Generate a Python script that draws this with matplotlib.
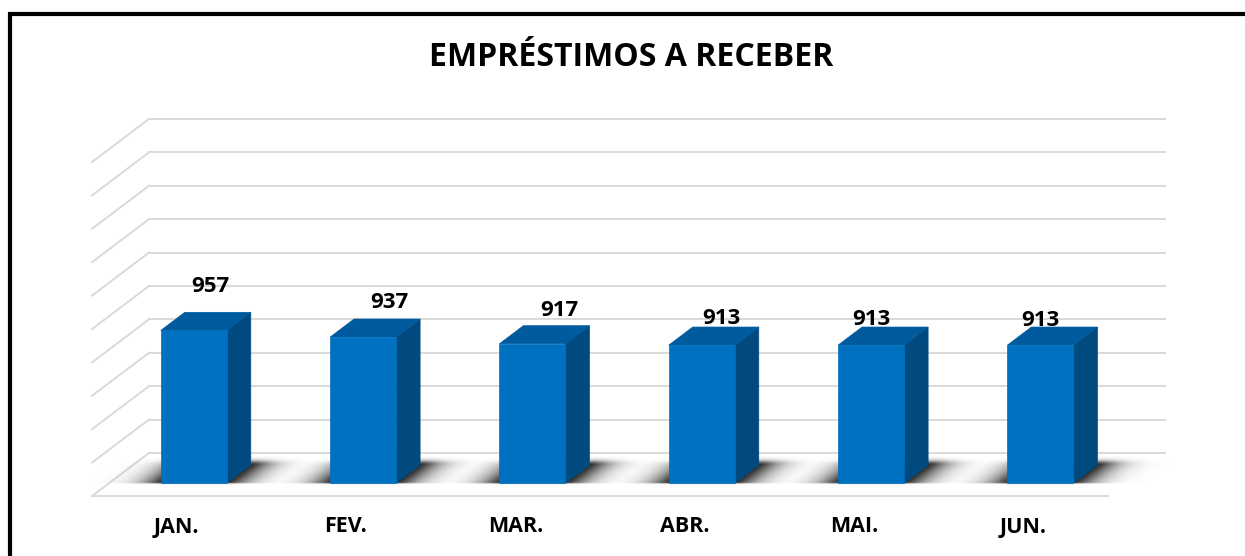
import numpy as np
import matplotlib.pyplot as plt
from matplotlib.patches import Polygon, Rectangle

plt.rcParams['font.family'] = ['Open Sans', 'DejaVu Sans']

meses = ['JAN.', 'FEV.', 'MAR.', 'ABR.', 'MAI.', 'JUN.']
valores = [957, 937, 917, 913, 913, 913]
titulo = 'EMPRÉSTIMOS A RECEBER'

# eixo de valores (3D do Excel): 500 a 1500, grade a cada 100
vmin, vmax, passo = 500, 1500, 100

# projeção oblíqua: deslocamento total da profundidade em unidades de dados
prof_x, prof_y = 0.337, 129.0
d0, d1 = 0.30, 0.72        # frente / fundo das barras
meia_larg = 0.195

cor_frente = '#0070c0'
cor_topo = '#005a9e'
cor_lado = '#004a80'
cor_grade = '#d9d9d9'

# ajustes manuais dos rótulos (pixels), como no gráfico original
desloc_rot = [(17, 44), (26, 35), (27, 33), (20, 27), (0, 26), (0, 25)]

fig = plt.figure(figsize=(12.45, 5.56), dpi=100)
ax = fig.add_axes([0, 0, 1, 1])
ppx = 1016 / 6.0
xlim = (-92 / ppx, (1245 - 92) / ppx)
ylim = (vmin - 60 / 0.334, vmin + 496 / 0.334)
ax.axis('off')


def proj(x, v, d):
    return x + d * prof_x, v + d * prof_y


n = len(meses)
# parede de fundo e lateral
for v in np.arange(vmin, vmax + 1, passo):
    xa, ya = proj(0, v, 1)
    xb, yb = proj(n, v, 1)
    ax.plot([xa, xb], [ya, yb], color=cor_grade, lw=1.4, zorder=1)
    ax.plot([0, xa], [v, ya], color=cor_grade, lw=1.4, zorder=1)
ax.plot([0, n], [vmin, vmin], color=cor_grade, lw=1.4, zorder=1)

# sombras difusas no piso (imagem RGBA sobre o plano do piso)
gx = np.linspace(-0.3, n + 0.6, 1400)
gv = np.linspace(vmin - 5, vmin + prof_y + 5, 160)
X, V = np.meshgrid(gx, gv)
D = (V - vmin) / prof_y
Xp = X - D * prof_x
alfa = np.zeros_like(X)
for i in range(n):
    xl, xr = i + 0.5 - meia_larg, i + 0.5 + meia_larg
    dist_x = np.maximum(np.maximum(xl - Xp, Xp - xr), 0)
    sx = np.exp(-(dist_x / 0.13) ** 1.4)
    td = np.where(D < d0 + 0.02, np.exp(-((d0 + 0.02 - D) / 0.025) ** 2),
                  np.where(D > d1, np.exp(-((D - d1) / 0.1) ** 2), 1.0))
    alfa = np.maximum(alfa, 0.82 * sx * td)
img = np.zeros(X.shape + (4,))
img[..., 3] = alfa
ax.imshow(img, extent=(gx[0], gx[-1], gv[0], gv[-1]), origin='lower',
          aspect='auto', interpolation='bilinear', zorder=2)

for i, (m, val) in enumerate(zip(meses, valores)):
    c = i + 0.5
    xl, xr = c - meia_larg, c + meia_larg

    frente = [proj(xl, vmin, d0), proj(xr, vmin, d0), proj(xr, val, d0), proj(xl, val, d0)]
    lado = [proj(xr, vmin, d0), proj(xr, vmin, d1), proj(xr, val, d1), proj(xr, val, d0)]
    topo = [proj(xl, val, d0), proj(xr, val, d0), proj(xr, val, d1), proj(xl, val, d1)]
    ax.add_patch(Polygon(lado, closed=True, fc=cor_lado, ec=cor_lado, lw=0.5, zorder=3))
    ax.add_patch(Polygon(topo, closed=True, fc=cor_topo, ec=cor_topo, lw=0.5, zorder=3))
    ax.add_patch(Polygon(frente, closed=True, fc=cor_frente, ec=cor_frente, lw=0.5, zorder=4))

    fx, fy = proj(c, val, d0)
    dx, dy = desloc_rot[i]
    ax.annotate(str(val), (fx, fy), xytext=(dx, dy), textcoords='offset pixels',
                ha='center', va='center', fontsize=16, fontweight='bold', zorder=5)
    ax.annotate(m, (c, vmin), xytext=(0, -31), textcoords='offset pixels',
                ha='center', va='center', fontsize=15.5, fontweight='bold')

ax.set_xlim(*xlim)
ax.set_ylim(*ylim)

fig.text(631 / 1245, 1 - 57 / 556, titulo, ha='center', va='center',
         fontsize=23, fontweight='bold')

# moldura preta
fig.patches.append(Rectangle((9.5 / 1245, -0.1), 1.2, 1 - 13.7 / 556 + 0.1,
                             transform=fig.transFigure, fill=False, ec='black', lw=3))

fig.savefig('out.png', dpi=100)
